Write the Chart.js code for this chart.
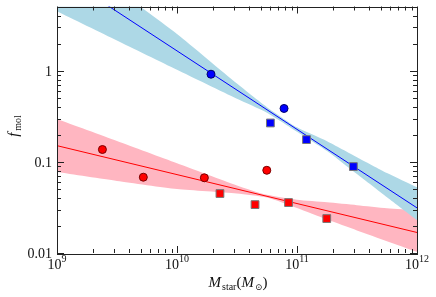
<!DOCTYPE html>
<html>
<head>
<meta charset="utf-8">
<script src="https://cdn.jsdelivr.net/npm/chart.js@4"></script>
<style>
  html, body { margin: 0; padding: 0; background: #fff; }
</style>
</head>
<body>
<canvas id="fmolChart" width="436" height="297"></canvas>
<script>
// measured points
const blueCircleMass = [1.92e10, 7.8e10];
const blueCircleFmol = [0.92, 0.387];
const blueSquareMass = [6.0e10, 1.2e11, 2.95e11];
const blueSquareFmol = [0.268, 0.176, 0.089];
const redCircleMass = [2.39e9, 5.24e9, 1.69e10, 5.6e10];
const redCircleFmol = [0.137, 0.068, 0.067, 0.081];
const redSquareMass = [2.28e10, 4.47e10, 8.5e10, 1.77e11];
const redSquareFmol = [0.045, 0.034, 0.0358, 0.0239];

// fits
const fitMass = [1e9, 1e12];
const blueFit = [12.1, 0.0313];
const redFit = [0.151, 0.0168];

// confidence bands
const bandMass = [1e9, 3.16e9, 1e10, 3.16e10, 5.62e10, 1e11, 1.78e11, 3.16e11, 5.62e11, 1e12];
const blueUpper = [28, 7.9, 2.55, 0.726, 0.40, 0.24, 0.169, 0.113, 0.0757, 0.0526];
const blueLower = [4.53, 2.16, 1.03, 0.495, 0.348, 0.215, 0.132, 0.0736, 0.041, 0.023];
const redUpper = [0.296, 0.170, 0.097, 0.0553, 0.0435, 0.0384, 0.036, 0.0335, 0.031, 0.0295];
const redLower = [0.0774, 0.0618, 0.0504, 0.045, 0.0406, 0.0312, 0.0233, 0.0177, 0.0135, 0.0103];

// ticks
const xMajor = [1e9, 1e10, 1e11, 1e12];
const xMajorExp = ["9", "10", "11", "12"];
const yMajor = [0.01, 0.1, 1];
const yMajorLabels = ["0.01", "0.1", "1"];

const pts = (xs, ys) => xs.map((x, i) => ({ x: x, y: ys[i] }));

function bandSet(ys, color, fill, order) {
    return {
        type: 'line',
        data: pts(bandMass, ys),
        borderWidth: 0,
        pointRadius: 0,
        backgroundColor: color,
        fill: fill,
        tension: 0.2,
        order: order
    };
}

function fitSet(ys, color) {
    return {
        type: 'line',
        data: pts(fitMass, ys),
        borderColor: color,
        borderWidth: 1,
        pointRadius: 0,
        fill: false,
        order: 5
    };
}

function markerSet(xs, ys, style, r, fill, edge) {
    return {
        type: 'scatter',
        data: pts(xs, ys),
        pointStyle: style,
        pointRadius: r,
        pointBackgroundColor: fill,
        pointBorderColor: edge,
        pointBorderWidth: 1,
        showLine: false,
        clip: false,
        order: 1
    };
}

const SERIF = '"Liberation Serif", "DejaVu Serif", serif';

const axesPlugin = {
    id: 'mplAxes',
    afterDraw(chart) {
        const ctx = chart.ctx;
        const a = chart.chartArea;
        const xs = chart.scales.x, ys = chart.scales.y;
        ctx.save();
        ctx.strokeStyle = '#222';
        ctx.lineWidth = 1;

        // inward ticks, all four sides
        ctx.beginPath();
        for (let d = 9; d <= 12; d++) {
            for (let m = 1; m <= 9; m++) {
                const v = m * Math.pow(10, d);
                if (v > 1e12) break;
                const px = Math.round(xs.getPixelForValue(v)) + 0.5;
                const len = m === 1 ? 7 : 4;
                ctx.moveTo(px, a.bottom); ctx.lineTo(px, a.bottom - len);
                ctx.moveTo(px, a.top); ctx.lineTo(px, a.top + len);
            }
        }
        for (let d = -2; d <= 0; d++) {
            for (let m = 1; m <= 9; m++) {
                const v = m * Math.pow(10, d);
                if (v > ys.max) break;
                const py = Math.round(ys.getPixelForValue(v)) + 0.5;
                const len = m === 1 ? 7 : 4;
                ctx.moveTo(a.left, py); ctx.lineTo(a.left + len, py);
                ctx.moveTo(a.right, py); ctx.lineTo(a.right - len, py);
            }
        }
        ctx.stroke();

        // frame
        ctx.strokeRect(Math.round(a.left) + 0.5, Math.round(a.top) + 0.5,
            Math.round(a.right - a.left), Math.round(a.bottom - a.top));

        ctx.fillStyle = '#111';

        // y tick labels
        ctx.font = '14px ' + SERIF;
        ctx.textAlign = 'right';
        ctx.textBaseline = 'middle';
        yMajor.forEach((v, i) => {
            ctx.fillText(yMajorLabels[i], a.left - 5, ys.getPixelForValue(v) + 1);
        });

        // x tick labels 10^n
        ctx.textAlign = 'left';
        ctx.textBaseline = 'alphabetic';
        xMajor.forEach((v, i) => {
            const cx = xs.getPixelForValue(v);
            ctx.font = '14px ' + SERIF;
            const wb = ctx.measureText('10').width;
            ctx.font = '10px ' + SERIF;
            const we = ctx.measureText(xMajorExp[i]).width;
            const x0 = cx - (wb + we) / 2;
            ctx.font = '14px ' + SERIF;
            ctx.fillText('10', x0, a.bottom + 16);
            ctx.font = '10px ' + SERIF;
            ctx.fillText(xMajorExp[i], x0 + wb, a.bottom + 9);
        });

        // x axis label: M_star(M_sun)
        const parts = [
            { t: 'M', f: 'italic 15px ', dy: 0 },
            { t: 'star', f: '10px ', dy: 3 },
            { t: '(', f: '15px ', dy: 0 },
            { t: 'M', f: 'italic 15px ', dy: 0 },
            { t: '\u2299', f: '9px ', dy: 3 },
            { t: ')', f: '15px ', dy: 0 }
        ];
        let total = 0;
        parts.forEach(p => { ctx.font = p.f + SERIF; p.w = ctx.measureText(p.t).width; total += p.w; });
        let x = (a.left + a.right) / 2 - total / 2;
        const base = 287;
        parts.forEach(p => {
            ctx.font = p.f + SERIF;
            ctx.fillText(p.t, x, base + p.dy);
            x += p.w + (p.t === 'M' ? 1 : 0);
        });

        // y axis label: f_mol
        ctx.save();
        ctx.translate(18, 126);
        ctx.rotate(-Math.PI / 2);
        ctx.font = 'italic 15px ' + SERIF;
        const wf = ctx.measureText('f').width;
        ctx.font = '10px ' + SERIF;
        const wm = ctx.measureText('mol').width;
        const sx = -(wf + wm + 2) / 2;
        ctx.font = 'italic 15px ' + SERIF;
        ctx.fillText('f', sx, 0);
        ctx.font = '10px ' + SERIF;
        ctx.fillText('mol', sx + wf + 2, 3);
        ctx.restore();

        ctx.restore();
    }
};

new Chart(document.getElementById('fmolChart'), {
    data: {
        datasets: [
            bandSet(redUpper, '#ffb6c1', '+1', 10),
            bandSet(redLower, '#ffb6c1', false, 10),
            bandSet(blueUpper, '#add8e6', '+1', 9),
            bandSet(blueLower, '#add8e6', false, 9),
            fitSet(redFit, '#ff0000'),
            fitSet(blueFit, '#0000ff'),
            markerSet(redCircleMass, redCircleFmol, 'circle', 4, '#ff0000', '#7a0000'),
            markerSet(redSquareMass, redSquareFmol, 'rect', 5.5, '#ff0000', '#777777'),
            markerSet(blueCircleMass, blueCircleFmol, 'circle', 4, '#0000ff', '#00006a'),
            markerSet(blueSquareMass, blueSquareFmol, 'rect', 5.5, '#0000ff', '#777777')
        ]
    },
    options: {
        responsive: false,
        animation: false,
        devicePixelRatio: 1,
        layout: { padding: { left: 57, right: 19, top: 5, bottom: 44 } },
        scales: {
            x: { type: 'logarithmic', min: 1e9, max: 1e12, display: false },
            y: { type: 'logarithmic', min: 0.01, max: 5.1, display: false }
        },
        plugins: {
            legend: { display: false },
            tooltip: { enabled: false }
        }
    },
    plugins: [axesPlugin]
});
</script>
</body>
</html>
